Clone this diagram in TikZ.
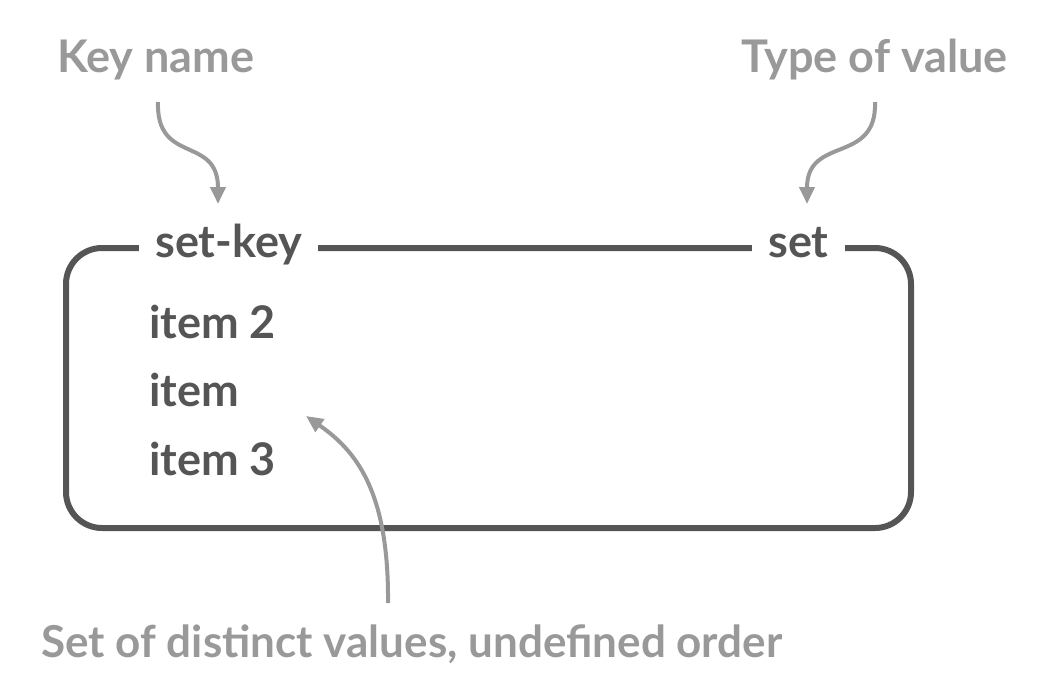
\documentclass[tikz,border=0pt]{standalone}
\usepackage{fontspec}
\setmainfont{Lato}
\usetikzlibrary{arrows.meta}
\definecolor{ink}{HTML}{555555}
\definecolor{soft}{HTML}{999999}
\begin{document}
\begin{tikzpicture}[x=1pt,y=-1pt,
  label/.style={font=\fontsize{45}{52}\selectfont\bfseries, text=soft, inner sep=0pt, anchor=base west},
  content/.style={font=\fontsize{45}{52}\selectfont\bfseries, text=ink, inner sep=0pt, anchor=base west},
  header/.style={content, fill=white, inner xsep=16pt, inner ysep=0pt},
  pointer/.style={draw=soft, line width=4pt, -{Triangle[length=17pt,width=15pt]}},
  frame/.style={draw=ink, line width=6pt, rounded corners=36pt}]
\useasboundingbox (0,0) rectangle (1041,693);

% the key container
\draw[frame] (66,248) rectangle (911,528);

% key name and type printed on the top edge
\node[header] (setkey) at (139,257) {set-key};
\node[header] (settype) at (752,257) {set};

% members of the set
\node[content] (item2) at (149,338) {item 2};
\node[content] (item1) at (149,406) {item};
\node[content] (item3) at (149,475) {item 3};

% captions
\node[label] (keyname) at (57,73) {Key name};
\node[label] (typeval) at (741,73) {Type of value};
\node[label, font=\fontsize{44}{50}\selectfont\bfseries] (members) at (41,657) {Set of distinct values, undefined order};

% arrow anchors
\coordinate (kn) at (158,102);
\coordinate (knTip) at (218,204);
\coordinate (tv) at (875,102);
\coordinate (tvTip) at (807,204);
\coordinate (mb) at (388,603);
\coordinate (mbTip) at (306,416);

\draw[pointer] (kn) .. controls (156,165) and (218,135) .. (knTip);
\draw[pointer] (tv) .. controls (877,165) and (807,135) .. (tvTip);
\draw[pointer] (mb) .. controls (389,490) and (355,450) .. (mbTip);
\end{tikzpicture}
\end{document}
